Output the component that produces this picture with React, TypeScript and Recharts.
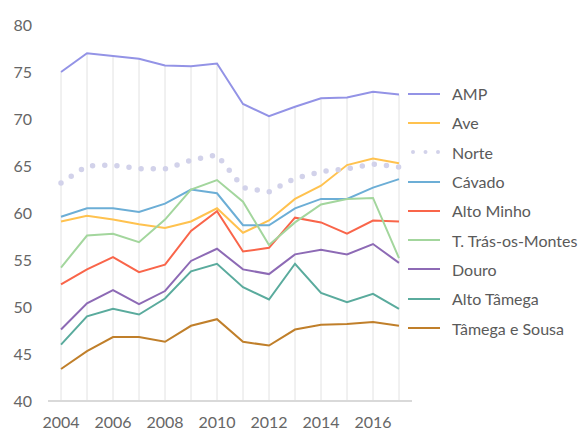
import { LineChart, Line, XAxis, YAxis, ReferenceLine } from 'recharts';

const years = ['2004', '2005', '2006', '2007', '2008', '2009', '2010', '2011', '2012', '2013', '2014', '2015', '2016', '2017'];
const yTicks = [40, 45, 50, 55, 60, 65, 70, 75, 80];

const amp = [75.0, 77.0, 76.7, 76.4, 75.7, 75.6, 75.9, 71.6, 70.3, 71.3, 72.2, 72.3, 72.9, 72.6];
const ave = [59.1, 59.7, 59.3, 58.8, 58.4, 59.1, 60.5, 57.9, 59.2, 61.5, 62.9, 65.1, 65.8, 65.3];
const norte = [63.2, 65.0, 65.1, 64.7, 64.7, 65.6, 66.2, 62.7, 62.25, 63.7, 64.4, 64.7, 65.2, 64.9];
const cavado = [59.6, 60.5, 60.5, 60.1, 61.0, 62.5, 62.1, 58.7, 58.7, 60.5, 61.5, 61.5, 62.7, 63.6];
const altoMinho = [52.4, 54.0, 55.3, 53.7, 54.5, 58.1, 60.2, 55.9, 56.3, 59.5, 59.0, 57.8, 59.2, 59.1];
const trasMontes = [54.2, 57.6, 57.8, 56.9, 59.3, 62.5, 63.5, 61.2, 56.6, 59.0, 60.9, 61.5, 61.6, 55.2];
const douro = [47.6, 50.4, 51.8, 50.3, 51.7, 54.9, 56.2, 54.0, 53.5, 55.6, 56.1, 55.6, 56.7, 54.7];
const altoTamega = [46.0, 49.0, 49.8, 49.2, 50.9, 53.8, 54.6, 52.1, 50.8, 54.6, 51.5, 50.5, 51.4, 49.8];
const tamegaSousa = [43.4, 45.3, 46.8, 46.8, 46.3, 48.0, 48.7, 46.3, 45.9, 47.6, 48.1, 48.2, 48.4, 48.0];

const series = [
  { key: 'amp', name: 'AMP', values: amp, color: '#9393e6' },
  { key: 'ave', name: 'Ave', values: ave, color: '#ffc24f' },
  { key: 'norte', name: 'Norte', values: norte, color: '#d2d2ea', dotted: true },
  { key: 'cavado', name: 'Cávado', values: cavado, color: '#6caed6' },
  { key: 'altoMinho', name: 'Alto Minho', values: altoMinho, color: '#f9654a' },
  { key: 'tras', name: 'T. Trás-os-Montes', values: trasMontes, color: '#a3d69d' },
  { key: 'douro', name: 'Douro', values: douro, color: '#8d6ab5' },
  { key: 'altoTamega', name: 'Alto Tâmega', values: altoTamega, color: '#5aab9d' },
  { key: 'tamegaSousa', name: 'Tâmega e Sousa', values: tamegaSousa, color: '#c07f2a' },
];

const data = years.map((year, i) => {
  const row: Record<string, string | number> = { year };
  series.forEach(s => { row[s.key] = s.values[i]; });
  return row;
});

const FONT = 'Lato, "Open Sans", sans-serif';

// legend drawn beside the plot, outside the chart layout
const LegendBox = () => (
  <div style={{ position: 'absolute', left: 408, top: 79, width: 172, fontFamily: FONT, fontSize: 16, color: '#5a5a5a' }}>
    {series.map(s => (
      <div key={s.key} style={{ display: 'flex', alignItems: 'center', height: 29.3 }}>
        <svg width={44} height={10} style={{ flex: 'none' }}>
          {s.dotted ? (
            <line x1={5} y1={5} x2={31} y2={5} stroke={s.color} strokeWidth={4}
              strokeLinecap="round" strokeDasharray="0 12.5" />
          ) : (
            <line x1={0} y1={5} x2={32} y2={5} stroke={s.color} strokeWidth={2} />
          )}
        </svg>
        <span style={{ whiteSpace: 'nowrap' }}>{s.name}</span>
      </div>
    ))}
  </div>
);

export default function App() {
  return (
    <div style={{ position: 'absolute', left: 0, top: 0, width: 580, height: 430, background: '#fff' }}>
      <LineChart width={580} height={430} data={data} margin={{ top: 25, right: 168, left: 0, bottom: 0 }}>
        {years.map((y, i) => (
          <ReferenceLine
            key={y}
            segment={[{ x: y, y: 40 }, { x: y, y: amp[i] }]}
            stroke="#e2e2e2"
            strokeWidth={1}
          />
        ))}
        <XAxis
          dataKey="year"
          interval={1}
          padding={{ left: 13, right: 13 }}
          height={29}
          tickLine={false}
          axisLine={{ stroke: '#d9d9d9', strokeWidth: 2 }}
          tick={{ fill: '#666', fontSize: 16, fontFamily: FONT }}
          tickMargin={10}
        />
        <YAxis
          domain={[40, 80]}
          ticks={yTicks}
          width={48}
          axisLine={false}
          tickLine={false}
          tickSize={0}
          tickMargin={16}
          tick={{ fill: '#666', fontSize: 16, fontFamily: FONT }}
        />
        {series.map(s => (
          <Line
            key={s.key}
            dataKey={s.key}
            name={s.name}
            stroke={s.color}
            strokeWidth={s.dotted ? 5.5 : 2}
            strokeDasharray={s.dotted ? '0 12.2' : undefined}
            strokeLinecap={s.dotted ? 'round' : 'butt'}
            dot={false}
            activeDot={false}
            type="linear"
            isAnimationActive={false}
          />
        ))}
      </LineChart>
      <LegendBox />
    </div>
  );
}
